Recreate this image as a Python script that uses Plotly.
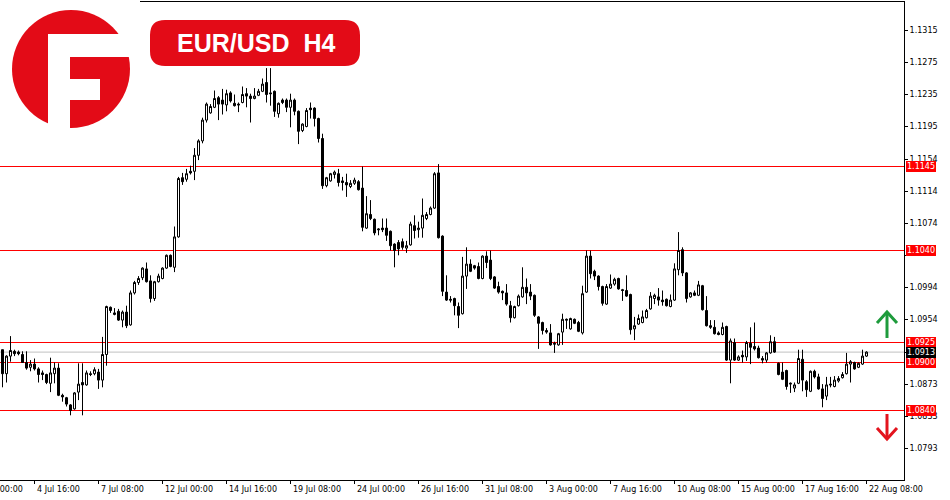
import plotly.graph_objects as go

# ---------------- data (EUR/USD, H4 candles) ----------------
open_ = [
    1.0916, 1.0886, 1.0908, 1.0914, 1.0913, 1.0910, 1.0900, 1.0894, 1.0898, 1.0892,
    1.0887, 1.0885, 1.0874, 1.0886, 1.0893, 1.0859, 1.0856, 1.0847, 1.0842, 1.0863,
    1.0875, 1.0872, 1.0886, 1.0886, 1.0888, 1.0878, 1.0910, 1.0969, 1.0960, 1.0964,
    1.0953, 1.0963, 1.0947, 1.0987, 1.1000, 1.1006, 1.1017, 1.1002, 1.0980, 1.1001,
    1.1005, 1.1018, 1.1034, 1.1019, 1.1057, 1.1131, 1.1129, 1.1139, 1.1139, 1.1159,
    1.1177, 1.1203, 1.1212, 1.1219, 1.1231, 1.1228, 1.1222, 1.1237, 1.1224, 1.1223,
    1.1225, 1.1236, 1.1233, 1.1230, 1.1234, 1.1239, 1.1250, 1.1237, 1.1239, 1.1211,
    1.1228, 1.1228, 1.1219, 1.1228, 1.1214, 1.1190, 1.1195, 1.1218, 1.1218, 1.1205,
    1.1180, 1.1121, 1.1127, 1.1135, 1.1136, 1.1127, 1.1125, 1.1120, 1.1124, 1.1126,
    1.1118, 1.1068, 1.1085, 1.1079, 1.1067, 1.1068, 1.1068, 1.1064, 1.1048, 1.1050,
    1.1051, 1.1043, 1.1047, 1.1071, 1.1066, 1.1068, 1.1080, 1.1085, 1.1093, 1.1137,
    1.1058, 1.0988, 1.0979, 1.0980, 1.0970, 1.0961, 1.1008, 1.1023, 1.1021, 1.1020,
    1.1005, 1.1033, 1.1028, 1.1007, 1.0995, 1.0989, 1.0987, 1.0971, 1.0956, 1.0971,
    1.0982, 1.0994, 1.0988, 1.0984, 1.0957, 1.0950, 1.0940, 1.0937, 1.0924, 1.0922,
    1.0938, 1.0954, 1.0942, 1.0954, 1.0950, 1.0937, 1.0988, 1.1033, 1.1014, 1.1008,
    1.0995, 1.0973, 1.0993, 1.0998, 1.1005, 1.0991, 1.0990, 1.0985, 1.0942, 1.0948,
    1.0950, 1.0956, 1.0967, 1.0980, 1.0982, 1.0978, 1.0979, 1.0970, 1.0978, 1.1016,
    1.1041, 1.1012, 1.0982, 1.0987, 1.0984, 1.0996, 1.0965, 1.0946, 1.0944, 1.0937,
    1.0935, 1.0945, 1.0903, 1.0925, 1.0903, 1.0909, 1.0907, 1.0924, 1.0920, 1.0918,
    1.0905, 1.0903, 1.0912, 1.0926, 1.0899, 1.0888, 1.0890, 1.0873, 1.0868, 1.0874,
    1.0904, 1.0876, 1.0864, 1.0889, 1.0882, 1.0867, 1.0858, 1.0873, 1.0870, 1.0877,
    1.0881, 1.0886, 1.0898, 1.0900, 1.0894, 1.0898, 1.0908,
]
high = [
    1.0916, 1.0909, 1.0933, 1.0916, 1.0915, 1.0914, 1.0914, 1.0903, 1.0905, 1.0894,
    1.0890, 1.0886, 1.0906, 1.0900, 1.0899, 1.0861, 1.0857, 1.0848, 1.0863, 1.0899,
    1.0899, 1.0890, 1.0889, 1.0894, 1.0892, 1.0932, 1.0971, 1.0970, 1.0968, 1.0967,
    1.0965, 1.0971, 1.0990, 1.1002, 1.1008, 1.1019, 1.1025, 1.1009, 1.1002, 1.1011,
    1.1019, 1.1035, 1.1035, 1.1070, 1.1132, 1.1137, 1.1142, 1.1146, 1.1168, 1.1179,
    1.1206, 1.1225, 1.1223, 1.1240, 1.1233, 1.1242, 1.1241, 1.1239, 1.1235, 1.1225,
    1.1245, 1.1243, 1.1236, 1.1243, 1.1242, 1.1255, 1.1268, 1.1268, 1.1240, 1.1225,
    1.1230, 1.1230, 1.1236, 1.1230, 1.1215, 1.1199, 1.1218, 1.1225, 1.1219, 1.1206,
    1.1186, 1.1132, 1.1137, 1.1140, 1.1142, 1.1132, 1.1136, 1.1128, 1.1131, 1.1128,
    1.1145, 1.1108, 1.1103, 1.1080, 1.1068, 1.1080, 1.1080, 1.1065, 1.1049, 1.1053,
    1.1055, 1.1052, 1.1076, 1.1084, 1.1076, 1.1105, 1.1088, 1.1095, 1.1138, 1.1148,
    1.1059, 1.1009, 1.0983, 1.0981, 1.0975, 1.1032, 1.1044, 1.1029, 1.1022, 1.1025,
    1.1034, 1.1039, 1.1040, 1.1008, 1.1001, 1.0990, 1.0998, 1.0977, 1.0971, 1.0985,
    1.1019, 1.1005, 1.0998, 1.0985, 1.0958, 1.0951, 1.0943, 1.0948, 1.0926, 1.0937,
    1.0961, 1.0955, 1.0956, 1.0955, 1.0952, 1.0996, 1.1040, 1.1040, 1.1016, 1.1009,
    1.0996, 1.0998, 1.1010, 1.1006, 1.1006, 1.0992, 1.1009, 1.0986, 1.0957, 1.0960,
    1.0965, 1.0967, 1.0988, 1.0986, 1.0993, 1.0990, 1.0980, 1.0985, 1.1024, 1.1063,
    1.1044, 1.1013, 1.0988, 1.0990, 1.1002, 1.0997, 1.0983, 1.0953, 1.0953, 1.0939,
    1.0950, 1.0946, 1.0930, 1.0930, 1.0909, 1.0915, 1.0927, 1.0944, 1.0950, 1.0921,
    1.0908, 1.0913, 1.0934, 1.0932, 1.0900, 1.0900, 1.0891, 1.0875, 1.0875, 1.0916,
    1.0916, 1.0878, 1.0890, 1.0891, 1.0886, 1.0873, 1.0882, 1.0882, 1.0883, 1.0883,
    1.0888, 1.0912, 1.0903, 1.0901, 1.0900, 1.0916, 1.0914,
]
low = [
    1.0869, 1.0875, 1.0901, 1.0908, 1.0909, 1.0900, 1.0891, 1.0889, 1.0890, 1.0875,
    1.0878, 1.0873, 1.0863, 1.0874, 1.0858, 1.0851, 1.0845, 1.0834, 1.0841, 1.0853,
    1.0834, 1.0871, 1.0883, 1.0884, 1.0867, 1.0869, 1.0896, 1.0962, 1.0959, 1.0952,
    1.0944, 1.0943, 1.0946, 1.0985, 1.0997, 1.1003, 1.1000, 1.0975, 1.0977, 1.1000,
    1.1004, 1.1017, 1.1019, 1.1013, 1.1056, 1.1122, 1.1126, 1.1135, 1.1128, 1.1153,
    1.1174, 1.1200, 1.1211, 1.1218, 1.1203, 1.1210, 1.1214, 1.1225, 1.1220, 1.1213,
    1.1224, 1.1219, 1.1200, 1.1229, 1.1233, 1.1238, 1.1225, 1.1221, 1.1207, 1.1206,
    1.1223, 1.1213, 1.1194, 1.1209, 1.1173, 1.1188, 1.1194, 1.1205, 1.1195, 1.1175,
    1.1117, 1.1119, 1.1126, 1.1130, 1.1120, 1.1115, 1.1107, 1.1118, 1.1122, 1.1115,
    1.1064, 1.1067, 1.1078, 1.1059, 1.1059, 1.1063, 1.1052, 1.1040, 1.1019, 1.1034,
    1.1041, 1.1037, 1.1046, 1.1055, 1.1056, 1.1056, 1.1078, 1.1084, 1.1092, 1.1055,
    1.0983, 1.0977, 1.0975, 1.0959, 1.0943, 1.0960, 1.0992, 1.1013, 1.1016, 1.1004,
    1.1004, 1.1018, 1.1003, 1.0992, 1.0986, 1.0978, 1.0971, 1.0950, 1.0955, 1.0970,
    1.0981, 1.0973, 1.0978, 1.0957, 1.0917, 1.0935, 1.0936, 1.0921, 1.0912, 1.0921,
    1.0922, 1.0942, 1.0941, 1.0948, 1.0938, 1.0935, 1.0987, 1.1005, 1.1003, 1.0990,
    1.0971, 1.0972, 1.0992, 1.0996, 1.0991, 1.0977, 1.0982, 1.0935, 1.0928, 1.0947,
    1.0949, 1.0955, 1.0966, 1.0973, 1.0971, 1.0971, 1.0970, 1.0969, 1.0977, 1.1009,
    1.1008, 1.0975, 1.0981, 1.0983, 1.0983, 1.0965, 1.0945, 1.0942, 1.0935, 1.0934,
    1.0934, 1.0902, 1.0874, 1.0902, 1.0902, 1.0900, 1.0902, 1.0898, 1.0915, 1.0905,
    1.0899, 1.0900, 1.0911, 1.0912, 1.0884, 1.0878, 1.0866, 1.0862, 1.0863, 1.0873,
    1.0864, 1.0857, 1.0863, 1.0880, 1.0866, 1.0844, 1.0853, 1.0869, 1.0869, 1.0875,
    1.0880, 1.0885, 1.0875, 1.0891, 1.0893, 1.0897, 1.0907,
]
close = [
    1.0886, 1.0908, 1.0915, 1.0911, 1.0911, 1.0900, 1.0893, 1.0898, 1.0892, 1.0885,
    1.0885, 1.0875, 1.0887, 1.0893, 1.0859, 1.0857, 1.0848, 1.0840, 1.0862, 1.0873,
    1.0872, 1.0887, 1.0885, 1.0891, 1.0878, 1.0910, 1.0970, 1.0965, 1.0962, 1.0953,
    1.0963, 1.0946, 1.0987, 1.1000, 1.1005, 1.1018, 1.1001, 1.0980, 1.1001, 1.1008,
    1.1018, 1.1034, 1.1020, 1.1057, 1.1130, 1.1126, 1.1136, 1.1137, 1.1159, 1.1177,
    1.1203, 1.1223, 1.1220, 1.1230, 1.1223, 1.1223, 1.1236, 1.1227, 1.1221, 1.1222,
    1.1235, 1.1233, 1.1230, 1.1233, 1.1239, 1.1248, 1.1235, 1.1236, 1.1214, 1.1224,
    1.1225, 1.1219, 1.1228, 1.1214, 1.1189, 1.1198, 1.1215, 1.1216, 1.1205, 1.1180,
    1.1121, 1.1131, 1.1136, 1.1138, 1.1125, 1.1125, 1.1122, 1.1124, 1.1128, 1.1116,
    1.1069, 1.1086, 1.1080, 1.1062, 1.1066, 1.1066, 1.1059, 1.1046, 1.1040, 1.1042,
    1.1044, 1.1046, 1.1073, 1.1065, 1.1068, 1.1084, 1.1085, 1.1093, 1.1136, 1.1056,
    1.0989, 1.0978, 1.0978, 1.0971, 1.0959, 1.1008, 1.1023, 1.1014, 1.1018, 1.1005,
    1.1033, 1.1025, 1.1005, 1.0993, 1.0988, 1.0987, 1.0973, 1.0956, 1.0970, 1.0983,
    1.0994, 1.0987, 1.0983, 1.0959, 1.0949, 1.0940, 1.0938, 1.0922, 1.0923, 1.0936,
    1.0954, 1.0953, 1.0955, 1.0949, 1.0939, 1.0986, 1.1033, 1.1011, 1.1008, 1.0995,
    1.0974, 1.0995, 1.0998, 1.1004, 1.0992, 1.0990, 1.0983, 1.0941, 1.0946, 1.0955,
    1.0957, 1.0965, 1.0983, 1.0984, 1.0978, 1.0976, 1.0971, 1.0978, 1.1017, 1.1040,
    1.1012, 1.0980, 1.0987, 1.0984, 1.0997, 1.0966, 1.0946, 1.0944, 1.0936, 1.0935,
    1.0944, 1.0903, 1.0927, 1.0903, 1.0907, 1.0907, 1.0925, 1.0919, 1.0917, 1.0906,
    1.0903, 1.0912, 1.0926, 1.0913, 1.0885, 1.0879, 1.0870, 1.0874, 1.0872, 1.0905,
    1.0878, 1.0866, 1.0889, 1.0882, 1.0867, 1.0855, 1.0872, 1.0872, 1.0878, 1.0880,
    1.0885, 1.0898, 1.0901, 1.0892, 1.0899, 1.0908, 1.0913,
]

# time axis labels (every 16 bars)
time_tick_idx = [8, 24, 40, 56, 72, 88, 104, 120, 136, 152, 168, 184, 200, 216]
time_tick_labels = ["4 Jul 16:00", "7 Jul 08:00", "12 Jul 00:00", "14 Jul 16:00",
                    "19 Jul 08:00", "24 Jul 00:00", "26 Jul 16:00", "31 Jul 08:00",
                    "3 Aug 00:00", "7 Aug 16:00", "10 Aug 08:00", "15 Aug 00:00",
                    "17 Aug 16:00", "22 Aug 08:00"]
first_time_label = "30 Jun 00:00"

# price axis labels (those fully hidden under a price tag are left blank)
price_ticks = [1.1315, 1.1275, 1.1235, 1.1195, 1.1154, 1.1114, 1.1074, 1.1034,
               1.0994, 1.0954, 1.0913, 1.0873, 1.0833, 1.0793]
hidden_ticks = [1.1034, 1.0913]

# support / resistance levels and current price
red_levels = [1.1145, 1.1040, 1.0925, 1.0900, 1.0840]
current_price = 1.0913

title_text = "EUR/USD\u00a0 H4"

# ---------------- layout helpers ----------------
W, H = 950, 500
PL, PR, PT, PB = 0, 904, 1, 480          # plot area in pixels
RED = "#ff0000"
LOGO_RED = "#e30b17"
FONT = "DejaVu Sans"


def X(px):
    return (px - PL) / (PR - PL)


def Y(py):
    return (PB - py) / (PB - PT)


def rrect_path(x0, y0, x1, y1, r):
    return (f"M{X(x0 + r)},{Y(y0)} L{X(x1 - r)},{Y(y0)} Q{X(x1)},{Y(y0)} {X(x1)},{Y(y0 + r)} "
            f"L{X(x1)},{Y(y1 - r)} Q{X(x1)},{Y(y1)} {X(x1 - r)},{Y(y1)} "
            f"L{X(x0 + r)},{Y(y1)} Q{X(x0)},{Y(y1)} {X(x0)},{Y(y1 - r)} "
            f"L{X(x0)},{Y(y0 + r)} Q{X(x0)},{Y(y0)} {X(x0 + r)},{Y(y0)} Z")


def poly_path(pts, close_it=False):
    s = "M" + " L".join(f"{X(a)},{Y(b)}" for a, b in pts)
    return s + (" Z" if close_it else "")


idx = list(range(len(close)))

fig = go.Figure()
fig.add_trace(go.Candlestick(
    x=idx, open=open_, high=high, low=low, close=close,
    increasing=dict(line=dict(color="black", width=1), fillcolor="white"),
    decreasing=dict(line=dict(color="black", width=1), fillcolor="black"),
    whiskerwidth=0, hoverinfo="skip", showlegend=False,
))

shapes = []
# current price line (silver)
shapes.append(dict(type="line", xref="paper", yref="y", x0=0, x1=1,
                   y0=current_price, y1=current_price,
                   line=dict(color="#c0c0c0", width=1), layer="below"))
for lv in red_levels:
    shapes.append(dict(type="line", xref="paper", yref="y", x0=0, x1=1, y0=lv, y1=lv,
                       line=dict(color=RED, width=1), layer="below"))

# top border (the logo area covers its left part)
shapes.append(dict(type="line", xref="paper", yref="paper", x0=X(140), x1=1,
                   y0=Y(1.5), y1=Y(1.5), line=dict(color="black", width=1)))

# logo
shapes.append(dict(type="circle", xref="paper", yref="paper",
                   x0=X(12), x1=X(130), y0=Y(128), y1=Y(10),
                   fillcolor=LOGO_RED, line=dict(width=0), layer="above"))
for (a0, b0, a1, b1) in [(48, 34, 70, 135), (48, 34, 135, 57), (70, 79, 100, 100)]:
    shapes.append(dict(type="rect", xref="paper", yref="paper",
                       x0=X(a0), x1=X(a1), y0=Y(b1), y1=Y(b0),
                       fillcolor="white", line=dict(width=0), layer="above"))

# title badge
shapes.append(dict(type="path", xref="paper", yref="paper",
                   path=rrect_path(150, 20, 360, 66, 15),
                   fillcolor=LOGO_RED, line=dict(width=0), layer="above"))

# arrows
GREEN = "#1e9b3c"
shapes.append(dict(type="path", xref="paper", yref="paper",
                   path=poly_path([(887, 338), (887, 313)]),
                   line=dict(color=GREEN, width=3), layer="above"))
shapes.append(dict(type="path", xref="paper", yref="paper",
                   path=poly_path([(877, 323), (887, 312), (897, 323)]),
                   line=dict(color=GREEN, width=3), layer="above"))
ARED = "#e3141e"
shapes.append(dict(type="path", xref="paper", yref="paper",
                   path=poly_path([(887, 414), (887, 438)]),
                   line=dict(color=ARED, width=3), layer="above"))
shapes.append(dict(type="path", xref="paper", yref="paper",
                   path=poly_path([(877, 428), (887, 439), (897, 428)]),
                   line=dict(color=ARED, width=3), layer="above"))

annotations = []
# time labels (left-aligned at their tick like the terminal)
for t, lab in zip(time_tick_idx, time_tick_labels):
    annotations.append(dict(x=t, xref="x", y=0, yref="paper", xanchor="left", yanchor="top",
                            yshift=-3, text=lab, showarrow=False,
                            font=dict(family=FONT, size=8, color="black")))
annotations.append(dict(x=X(-30), xref="paper", y=0, yref="paper", xanchor="left",
                        yanchor="top", yshift=-3, text=first_time_label, showarrow=False,
                        font=dict(family=FONT, size=8, color="black")))

# price tags on the right axis
for lv in red_levels:
    annotations.append(dict(x=1, xref="paper", y=lv, yref="y", xanchor="left",
                            yanchor="middle", xshift=2, text=f"{lv:.4f}", showarrow=False,
                            bgcolor=RED, borderpad=1, borderwidth=0,
                            font=dict(family=FONT, size=8, color="white")))
annotations.append(dict(x=1, xref="paper", y=current_price, yref="y", xanchor="left",
                        yanchor="middle", xshift=2, text=f"{current_price:.4f}",
                        showarrow=False, bgcolor="black", borderpad=1, borderwidth=0,
                        font=dict(family=FONT, size=8, color="white")))

# badge title
annotations.append(dict(x=X(256), y=Y(43), xref="paper", yref="paper", xanchor="center",
                        yanchor="middle", text=f"<b>{title_text}</b>", showarrow=False,
                        font=dict(family="Liberation Sans", size=25, color="white")))

PX_PER_UNIT = 8000.0          # vertical scale of the terminal (pixels per price unit)
y_top = 1.1351875
y_bot = y_top - (PB - PT) / PX_PER_UNIT

fig.update_layout(
    width=W, height=H,
    margin=dict(l=PL, r=W - PR, t=PT, b=H - PB),
    paper_bgcolor="white", plot_bgcolor="white",
    showlegend=False,
    boxgap=0.5, boxgroupgap=0,
    shapes=shapes, annotations=annotations,
    xaxis=dict(range=[-0.625, 225.375], showgrid=False, zeroline=False,
               showline=True, linecolor="black", linewidth=1,
               ticks="outside", ticklen=3, tickcolor="black", tickwidth=1,
               tickvals=time_tick_idx, showticklabels=False,
               rangeslider=dict(visible=False), automargin=False, fixedrange=True),
    yaxis=dict(side="right", range=[y_bot, y_top], showgrid=False, zeroline=False,
               showline=True, linecolor="black", linewidth=1,
               ticks="outside", ticklen=3, tickcolor="black", tickwidth=1,
               tickvals=price_ticks,
               ticktext=["" if p in hidden_ticks else f"{p:.4f}" for p in price_ticks],
               tickfont=dict(family=FONT, size=8, color="black"),
               automargin=False, fixedrange=True),
)

fig.write_html("out.html", config={"displayModeBar": False},
               post_script="document.body.style.margin='0px';")
